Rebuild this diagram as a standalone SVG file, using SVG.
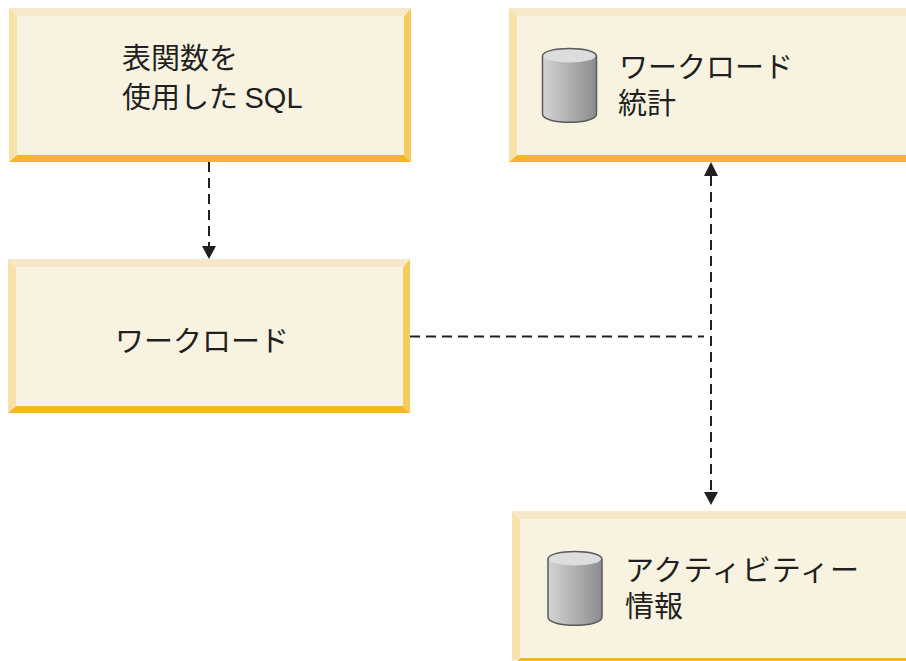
<svg xmlns="http://www.w3.org/2000/svg" width="906" height="661" viewBox="0 0 906 661">
<style>
.face{fill:#f8f3e0}
.t{fill:#f5e9c9}
.l{fill:#f8e2a9}
.r{fill:#f5cb5c}
.b{fill:#f7b52a}
text{font-family:"Noto Sans CJK JP","Liberation Sans",sans-serif;font-size:29px;fill:#231f20}
.lat{font-family:"Liberation Sans",sans-serif}
.c{fill:none;stroke:#231f20;stroke-width:2;stroke-dasharray:10 6}
.ah{fill:#231f20}
.cyl{fill:url(#g);stroke:#58595b;stroke-width:1.500}
.top{fill:#dcdddd}
</style>
<defs>
<linearGradient id="g" x1="0" y1="0" x2="1" y2="0"><stop offset="0" stop-color="#d4d4d4"/><stop offset="1" stop-color="#8c8c8c"/></linearGradient>
</defs>
<rect width="906" height="661" fill="#fff"/>
<g id="connectors">
<path class="c" d="M209 162V246"/>
<path class="ah" d="M202 246H216L209 259Z"/>
<path class="c" d="M410 336.500H704"/>
<path class="c" d="M711 176V492"/>
<path class="ah" d="M704 176H718L711 162Z"/>
<path class="ah" d="M704 492H718L711 505Z"/>
</g>
<g id="node-sql">
<path class="t" d="M9 8H411L403 16H17Z"/>
<path class="l" d="M9 8L17 16V155L9 162Z"/>
<path class="r" d="M411 8V162L404 155V16Z"/>
<path class="b" d="M9 162L17 155H404L411 162Z"/>
<rect class="face" x="17" y="16" width="387" height="139"/>
<text x="122" y="69">表関数を</text>
<text x="122" y="108">使用した <tspan class="lat">SQL</tspan></text>
</g>
<g id="node-workload">
<path class="t" d="M8 259H410L402 267H16Z"/>
<path class="l" d="M8 259L16 267V406L8 413Z"/>
<path class="r" d="M410 259V413L403 406V267Z"/>
<path class="b" d="M8 413L16 406H403L410 413Z"/>
<rect class="face" x="16" y="267" width="387" height="139"/>
<text x="115" y="352">ワークロード</text>
</g>
<g id="node-stats">
<path class="t" d="M509 8H906V16H517Z"/>
<path class="l" d="M509 8L517 16V155L509 162Z"/>
<path class="b" d="M509 162L517 155H906V162Z"/>
<rect class="face" x="517" y="16" width="389" height="139"/>
<path class="cyl" d="M542.500 56C542.500 46 596.500 46 596.500 56V114C596.500 125 542.500 125 542.500 114Z"/>
<ellipse class="top" cx="569.500" cy="56" rx="26" ry="6.500"/>
<text x="619" y="78">ワークロード</text>
<text x="618" y="114">統計</text>
</g>
<g id="node-activity">
<path class="t" d="M512 511H906V519H520Z"/>
<path class="l" d="M512 511L520 519V658L512 661Z"/>
<path class="b" d="M517 661L520 658H906V661Z"/>
<rect class="face" x="520" y="519" width="386" height="139"/>
<path class="cyl" d="M548 559C548 549 602 549 602 559V617C602 628 548 628 548 617Z"/>
<ellipse class="top" cx="575" cy="559" rx="26" ry="6.500"/>
<text x="625" y="581" letter-spacing="1">アクティビティー</text>
<text x="625" y="617">情報</text>
</g>
</svg>
